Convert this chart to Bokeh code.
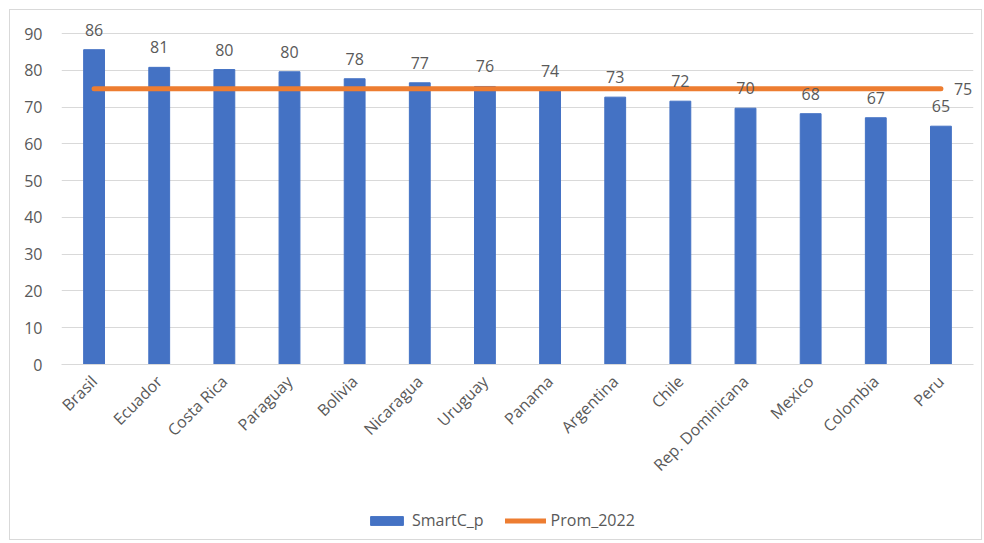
from bokeh.plotting import figure
from bokeh.layouts import column
from bokeh.models import (ColumnDataSource, FactorRange, Range1d, FixedTicker, LabelSet,
                          Legend, LegendItem)
from bokeh.embed import file_html
from bokeh.resources import INLINE
from bokeh.core.properties import value

# ---- data ----
countries = ["Brasil", "Ecuador", "Costa Rica", "Paraguay", "Bolivia", "Nicaragua", "Uruguay",
             "Panama", "Argentina", "Chile", "Rep. Dominicana", "Mexico", "Colombia", "Peru"]
smartc_p = [85.6, 80.8, 80.2, 79.6, 77.7, 76.6, 75.6, 74.4, 72.7, 71.6, 69.7, 68.2, 67.1, 64.8]
prom_2022 = [75] * len(countries)
y_ticks = [0, 10, 20, 30, 40, 50, 60, 70, 80, 90]
series_names = ["SmartC_p", "Prom_2022"]

FONT = "Open Sans"
TXT = "#595959"
BLUE = "#4472C4"
ORANGE = "#ED7D31"
GRID = "#D9D9D9"
FS = "16px"

src = ColumnDataSource(dict(
    x=countries, y=smartc_p, lab=[f"{v:.0f}" for v in smartc_p], prom=prom_2022))
end_src = ColumnDataSource(dict(x=[countries[-1]], y=[prom_2022[-1]], lab=[f"{prom_2022[-1]:.0f}"]))

p = figure(x_range=FactorRange(factors=countries, range_padding=0),
           y_range=Range1d(0, 94.9),
           frame_width=912, frame_height=349,
           min_border_left=51, min_border_right=8, min_border_top=5, min_border_bottom=136,
           output_backend="svg", toolbar_location=None)

p.vbar(x="x", top="y", width=0.32, source=src, fill_color=BLUE, line_color=BLUE)
p.line(x="x", y="prom", source=src, line_color=ORANGE, line_width=5, line_cap="round")

p.add_layout(LabelSet(x="x", y="y", text="lab", source=src, text_align="center",
                      text_baseline="middle", y_offset=20, text_font=value(FONT),
                      text_font_size=FS, text_color=TXT))
p.add_layout(LabelSet(x="x", y="y", text="lab", source=end_src, text_align="left",
                      text_baseline="middle", x_offset=13, text_font=value(FONT),
                      text_font_size=FS, text_color=TXT))

p.outline_line_color = None
p.background_fill_color = "white"
p.border_fill_color = "white"

p.xgrid.grid_line_color = None
p.ygrid.grid_line_color = GRID
p.ygrid.grid_line_width = 1

p.yaxis.ticker = FixedTicker(ticks=y_ticks)
p.yaxis.axis_line_color = None
p.yaxis.major_tick_line_color = None
p.yaxis.minor_tick_line_color = None
p.yaxis.major_label_standoff = 13
p.yaxis.major_label_text_font = FONT
p.yaxis.major_label_text_font_size = FS
p.yaxis.major_label_text_color = TXT

p.xaxis.axis_line_color = GRID
p.xaxis.major_tick_line_color = None
p.xaxis.major_label_orientation = 0.785398
p.xaxis.major_label_standoff = 8
p.xaxis.major_label_text_font = FONT
p.xaxis.major_label_text_font_size = FS
p.xaxis.major_label_text_color = TXT

# ---- legend strip (stub renderers lie outside its visible range) ----
pl = figure(x_range=Range1d(0, 1), y_range=Range1d(0, 1),
            frame_width=971, frame_height=39,
            min_border_left=0, min_border_right=0, min_border_top=0, min_border_bottom=0,
            output_backend="svg", toolbar_location=None)
pl.axis.visible = False
pl.grid.visible = False
pl.outline_line_color = None
lb = pl.vbar(x=[-5], top=[-5], bottom=[-6], width=0.32, fill_color=BLUE, line_color=BLUE)
ll = pl.line(x=[-5, -4], y=[-5, -5], line_color=ORANGE, line_width=5, line_cap="round")
legend = Legend(items=[LegendItem(label=series_names[0], renderers=[lb]),
                       LegendItem(label=series_names[1], renderers=[ll])],
                orientation="horizontal", location=(356, 8),
                glyph_width=41, glyph_height=11, label_standoff=5, spacing=21,
                padding=0, margin=0, border_line_color=None, background_fill_alpha=0,
                label_text_font=FONT, label_text_font_size=FS, label_text_color=TXT)
pl.add_layout(legend)

layout = column(p, pl, spacing=0)
layout.styles = {"margin-left": "9px", "margin-top": "9px", "border": "1px solid #D9D9D9"}

open("out.html", "w").write(file_html(layout, INLINE))
